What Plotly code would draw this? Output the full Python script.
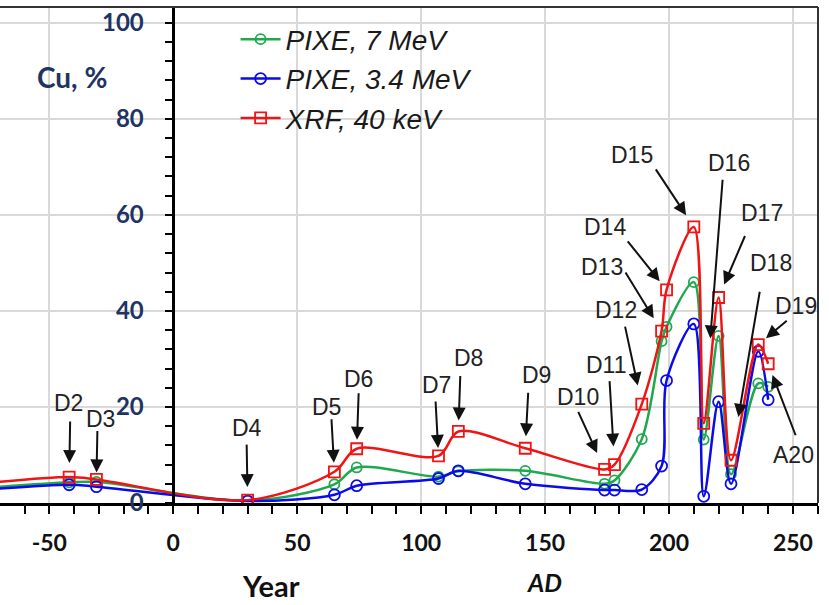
import plotly.graph_objects as go

# ---- data ----
years = [-90, -42, -31, 30, 65, 74, 107, 115, 142, 174, 178, 189, 197, 199, 210, 214, 220, 225, 236, 240]
labels = ["D1", "D2", "D3", "D4", "D5", "D6", "D7", "D8", "D9", "D10", "D11", "D12",
          "D13", "D14", "D15", "D16", "D17", "D18", "D19", "A20"]
pixe_7 = [2.6, 4.3, 4.4, 0.5, 3.9, 7.4, 5.5, 6.6, 6.7, 4.0, 4.7, 13.3, 33.7, 36.7, 46.0, 13.2, 34.8, 6.0, 24.9, 24.2]
pixe_34 = [2.2, 3.8, 3.4, 0.4, 1.7, 3.6, 5.1, 6.7, 4.0, 2.7, 2.7, 2.8, 7.7, 25.5, 37.3, 1.4, 21.1, 4.0, 31.6, 21.5]
xrf_40 = [3.4, 5.4, 4.9, 0.6, 6.5, 11.3, 9.8, 14.9, 11.4, 7.0, 8.0, 20.6, 35.8, 44.4, 57.5, 16.6, 42.8, 8.9, 33.0, 29.0]

x_ticks = [-50, 0, 50, 100, 150, 200, 250]
y_ticks = [0, 20, 40, 60, 80, 100]

# label placement: (arrow tail dx, dy, standoff, text dx, dy) in pixels relative to the XRF point
label_layout = {
    "D2": (1, -57, 14, -1, -74),
    "D3": (1, -50, 7, 4, -60),
    "D4": (-1, -57, 13, -1, -72),
    "D5": (-3, -54, 9, -8, -65),
    "D6": (2, -57, 9, 2, -70),
    "D7": (-3, -56, 8, -2, -71),
    "D8": (2, -57, 11, 10, -73),
    "D9": (3, -57, 12, 11, -73),
    "D10": (-27, -59, 18, -27, -72),
    "D11": (-5, -85, 18, -8, -100),
    "D12": (-17, -79, 19, -26, -94),
    "D13": (-37, -60, 15, -60, -64),
    "D14": (-40, -50, 11, -62, -63),
    "D15": (-39, -59, 14, -62, -72),
    "D16": (19, -245, 85, 25, -260),
    "D17": (27, -63, 14, 43, -84),
    "D18": (29, -170, 44, 40, -197),
    "D19": (30, -25, 10, 38, -39),
    "A20": (28, 73, 12, 25, 91),
}

green = "#1FA84F"
blue = "#0B0BEA"
red = "#F01414"
navy = "#1F3462"

fig = go.Figure()
series = [
    ("PIXE, 7 MeV", pixe_7, green, "circle-open", 10),
    ("PIXE, 3.4 MeV", pixe_34, blue, "circle-open", 11),
    ("XRF, 40 keV", xrf_40, red, "square-open", 11),
]
for name, vals, col, sym, size in series:
    fig.add_trace(go.Scatter(
        x=years, y=vals, name=name, mode="lines+markers",
        line=dict(color=col, width=2.5, shape="spline", smoothing=0.9),
        marker=dict(symbol=sym, size=size, color=col, line=dict(width=1.8, color=col)),
    ))

annotations = []
for i, lab in enumerate(labels):
    if lab not in label_layout:
        continue
    adx, ady, so, tdx, tdy = label_layout[lab]
    annotations.append(dict(
        x=years[i], y=xrf_40[i], xref="x", yref="y", text="", showarrow=True,
        ax=adx, ay=ady, standoff=so, arrowhead=2, arrowsize=1.3, arrowwidth=2,
        arrowcolor="#111111",
    ))
    annotations.append(dict(
        x=years[i], y=xrf_40[i], xref="x", yref="y", text=lab, showarrow=False,
        xshift=tdx, yshift=-tdy, xanchor="center", yanchor="middle",
        font=dict(family="Liberation Sans", size=23, color="#222222"),
    ))

annotations += [
    dict(x=0.088, y=0.859, xref="paper", yref="paper", text="<b>Cu, %</b>", showarrow=False,
         xanchor="center", yanchor="middle",
         font=dict(family="Lato", size=28, color=navy)),
    dict(x=0.331, y=-0.2056, xref="paper", yref="paper", text="<b>Year</b>", showarrow=False,
         xanchor="center", yanchor="bottom",
         font=dict(family="Lato", size=29, color="#111111")),
    dict(x=0.666, y=-0.16, xref="paper", yref="paper", text="<b><i>AD</i></b>", showarrow=False,
         xanchor="center", yanchor="middle",
         font=dict(family="Lato", size=25, color="#111111")),
]

fig.update_layout(
    width=829, height=605,
    margin=dict(l=0, r=11, t=7, b=102),
    paper_bgcolor="white", plot_bgcolor="white",
    showlegend=True,
    legend=dict(x=0.288, y=0.985, xanchor="left", yanchor="top", itemwidth=40,
                bgcolor="rgba(0,0,0,0)", borderwidth=0,
                font=dict(family="Liberation Sans", size=28, color="#1a1a1a", style="italic")),
    annotations=annotations,
    shapes=[
        dict(type="line", xref="paper", yref="paper", x0=0, x1=1, y0=1, y1=1,
             line=dict(color="#333333", width=2)),
        dict(type="line", xref="paper", yref="paper", x0=1, x1=1, y0=0, y1=1,
             line=dict(color="#333333", width=2)),
    ],
    xaxis=dict(
        range=[-69.9, 260.1], tickvals=x_ticks, ticktext=[str(v) for v in x_ticks],
        showgrid=True, gridcolor="#d9d9d9", gridwidth=1.5, zeroline=False,
        showline=True, linecolor="black", linewidth=2.5,
        ticks="outside", ticklen=8, tickwidth=2, tickcolor="black",
        minor=dict(dtick=10, tick0=0, ticks="outside", ticklen=8, tickwidth=2, tickcolor="black", showgrid=False),
        tickfont=dict(family="Lato", size=23, color="#111111", weight="bold"),
        ticklabelstandoff=10,
    ),
    yaxis=dict(
        range=[0, 103.3], tickvals=y_ticks, ticktext=[str(v) for v in y_ticks],
        anchor="free", position=173.3 / 818,
        showgrid=True, gridcolor="#d9d9d9", gridwidth=1.5, zeroline=False,
        showline=True, linecolor="black", linewidth=2.5,
        ticks="outside", ticklen=8, tickwidth=2, tickcolor="black",
        minor=dict(dtick=4, tick0=0, ticks="outside", ticklen=8, tickwidth=2, tickcolor="black", showgrid=False),
        tickfont=dict(family="Lato", size=24, color=navy, weight="bold"),
        ticklabelstandoff=16,
    ),
)

fig.write_html("out.html")
